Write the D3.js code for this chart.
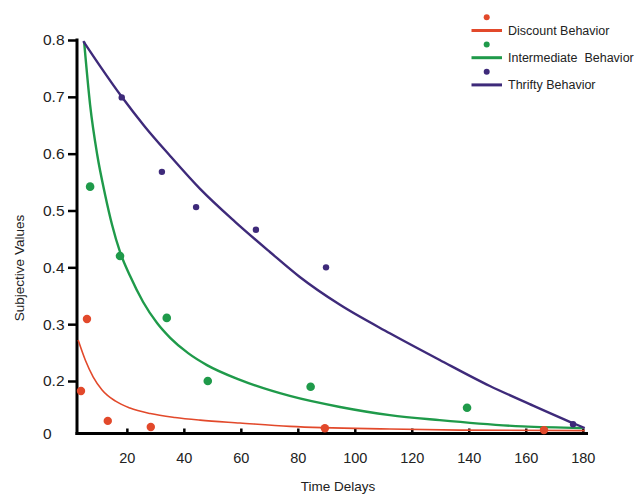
<!DOCTYPE html>
<html>
<head>
<meta charset="utf-8">
<script src="https://cdn.jsdelivr.net/npm/d3@7"></script>
<style>
  body { margin: 0; background: #fff; }
  text { font-family: "Liberation Sans", Arial, sans-serif; fill: #222; }
</style>
</head>
<body>
<div id="chart"></div>
<script>
const w = 638
const h = 494

// Series names, shown in legend
const seriesNames = [ "Discount Behavior", "Intermediate  Behavior", "Thrifty Behavior" ]

// Observed points [time delay, subjective value]
const discountPoints = [ [3.9, 0.162], [6.0, 0.309], [13.3, 0.048], [28.4, 0.025], [89.5, 0.020], [166.4, 0.013] ]
const intermediatePoints = [ [7.1, 0.542], [17.6, 0.420], [34.0, 0.311], [48.4, 0.200], [84.5, 0.178], [139.4, 0.098] ]
const thriftyPoints = [ [18.2, 0.699], [32.3, 0.568], [44.3, 0.506], [65.3, 0.466], [89.9, 0.400], [176.6, 0.035] ]

// Fitted curves
const discountCurve = [ [2.9, 0.272], [5.4, 0.237], [8.2, 0.207], [11.3, 0.166], [15.9, 0.124], [21.1, 0.097],
                        [28.2, 0.076], [36.9, 0.061], [45.7, 0.051], [59.7, 0.040], [77.2, 0.027], [112.3, 0.017],
                        [136.8, 0.013], [180.7, 0.011] ]
const intermediateCurve = [ [5.0, 0.797], [7.1, 0.686], [9.6, 0.598], [12.4, 0.527], [14.8, 0.475], [17.6, 0.427],
                            [21.1, 0.385], [25.7, 0.339], [30.6, 0.302], [35.2, 0.276], [41.5, 0.249], [48.1, 0.228],
                            [59.7, 0.202], [77.2, 0.143], [94.8, 0.101], [112.3, 0.070], [129.8, 0.051],
                            [158.9, 0.027], [180.0, 0.021] ]
const thriftyCurve = [ [4.7, 0.798], [10.6, 0.754], [18.2, 0.700], [26.4, 0.647], [35.2, 0.596], [45.7, 0.538],
                       [58.0, 0.480], [70.2, 0.427], [80.7, 0.383], [94.8, 0.334], [112.3, 0.284], [129.8, 0.237],
                       [147.4, 0.181], [161.4, 0.112], [176.5, 0.040], [180.7, 0.021] ]

const xTicks = [ 20, 40, 60, 80, 100, 120, 140, 160, 180 ]
const yTicks = [ 0, 0.2, 0.3, 0.4, 0.5, 0.6, 0.7, 0.8 ]

const colors = [ "#e2492b", "#1f9a4a", "#3e2a7a" ]

const svg = d3.select("#chart")
              .append("svg")
                .attr("width", w)
                .attr("height", h)

// Scales - y axis squeezes 0 to 0.2 like the original figure
const xScale = d3.scaleLinear()
                  .domain([2.5, 181.5])
                  .range([77, 587])

const yScale = d3.scaleLinear()
                  .domain([0, 0.2, 0.8])
                  .range([433.5, 381, 40])

// --- Axes ---
const xAxis = svg.append("g")
  .attr("transform", "translate(0,433.5)")
  .call(d3.axisBottom(xScale).tickValues(xTicks).tickSizeInner(-5).tickSizeOuter(0).tickPadding(19))
xAxis.select(".domain").attr("stroke-width", 3).attr("d", "M75.5,0H588")
xAxis.selectAll(".tick line").attr("stroke-width", 2.5)
xAxis.selectAll("text").style("font-size", "14.5px").attr("fill", "#222")

const yAxis = svg.append("g")
  .attr("transform", "translate(77,0)")
  .call(d3.axisLeft(yScale).tickValues(yTicks).tickFormat(d => d === 0 ? "0" : d3.format(".1f")(d)).tickSizeInner(9).tickSizeOuter(0))
yAxis.select(".domain").attr("stroke-width", 3).attr("d", "M0,38.5V435")
yAxis.selectAll(".tick line").attr("stroke-width", 2.5).attr("x2", -9)
yAxis.selectAll(".tick").filter(d => d === 0).select("line").remove()
yAxis.selectAll("text")
  .attr("x", -34)
  .attr("text-anchor", "start")
  .style("font-size", "15.5px")
  .attr("fill", "#222")

// Axis titles
svg.append("text")
  .attr("x", 338).attr("y", 491)
  .attr("text-anchor", "middle")
  .style("font-size", "13.5px")
  .text("Time Delays")

svg.append("text")
  .attr("transform", "translate(24,268) rotate(-90)")
  .attr("text-anchor", "middle")
  .style("font-size", "13.5px")
  .text("Subjective Values")

// --- Curves and points ---
const line = d3.line()
  .x(d => xScale(d[0]))
  .y(d => yScale(d[1]))
  .curve(d3.curveMonotoneX)

const curves = [ discountCurve, intermediateCurve, thriftyCurve ]
const points = [ discountPoints, intermediatePoints, thriftyPoints ]
const lineWidths = [ 1.6, 2.4, 2.4 ]
const radii = [ 4.2, 4.3, 3.2 ]

curves.forEach((c, i) => {
  svg.append("path")
    .datum(c)
    .attr("fill", "none")
    .attr("stroke", colors[i])
    .attr("stroke-width", lineWidths[i])
    .attr("d", line)
})

points.forEach((p, i) => {
  svg.append("g")
    .selectAll("circle")
    .data(p)
    .join("circle")
      .attr("cx", d => xScale(d[0]))
      .attr("cy", d => yScale(d[1]))
      .attr("r", radii[i])
      .attr("fill", colors[i])
})

// --- Legend ---
const legend = svg.append("g")
  .selectAll("g")
  .data(seriesNames)
  .join("g")
    .attr("transform", (d, i) => `translate(0,${i * 27.2})`)

legend.append("circle")
  .attr("cx", 486.7).attr("cy", 17.3)
  .attr("r", 3)
  .attr("fill", (d, i) => colors[i])

legend.append("line")
  .attr("x1", 471.5).attr("x2", 502)
  .attr("y1", 30.5).attr("y2", 30.5)
  .attr("stroke", (d, i) => colors[i])
  .attr("stroke-width", 3)

legend.append("text")
  .attr("x", 508).attr("y", 34.8)
  .style("font-size", "12.5px")
  .style("white-space", "pre")
  .text(d => d)
</script>
</body>
</html>
